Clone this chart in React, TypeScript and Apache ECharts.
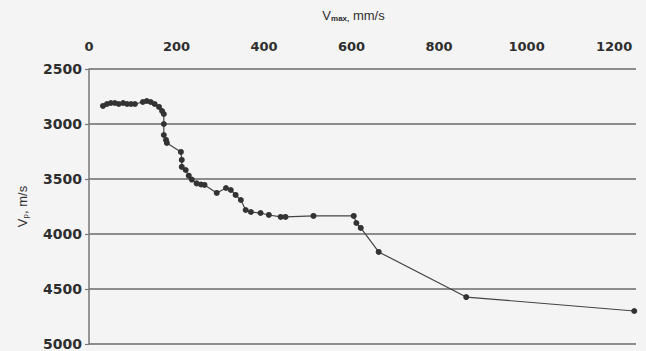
import React, { useEffect, useRef } from "react";
import * as echarts from "echarts";

const vmax: number[] = [32, 41, 50, 59, 68, 78, 87, 96, 105, 123, 132, 141, 150, 160, 167, 171, 171, 171, 176, 178, 210, 212, 212, 221, 228, 235, 246, 256, 264, 292, 313, 324, 335, 347, 358, 370, 392, 411, 438, 449, 513, 605, 611, 621, 662, 862, 1246];
const vp: number[] = [2836, 2818, 2809, 2809, 2818, 2809, 2818, 2818, 2818, 2800, 2791, 2800, 2818, 2845, 2882, 2909, 3000, 3100, 3145, 3172, 3254, 3327, 3390, 3418, 3470, 3505, 3540, 3550, 3554, 3627, 3582, 3600, 3645, 3691, 3782, 3800, 3809, 3827, 3845, 3845, 3836, 3836, 3900, 3945, 4163, 4573, 4700];
const xTicks = { min: 0, max: 1250, interval: 200 };
const yTicks = { min: 2500, max: 5000, interval: 500 };

export default function App() {
  const ref = useRef<HTMLDivElement>(null);
  useEffect(() => {
    if (!ref.current) return;
    const chart = echarts.init(ref.current, null, { renderer: "svg" });
    const font = "DejaVu Sans";
    const nameFont = "Liberation Sans";
    chart.setOption({
      animation: false,
      backgroundColor: "#f4f4f4",
      grid: { left: 89, right: 10, top: 69, bottom: 7 },
      xAxis: {
        type: "value",
        position: "top",
        min: xTicks.min,
        max: xTicks.max,
        interval: xTicks.interval,
        axisLine: { show: false },
        axisTick: { show: false },
        splitLine: { show: false },
        axisLabel: {
          showMaxLabel: false,
          margin: 16,
          color: "#2e2e2e",
          fontFamily: font,
          fontWeight: "bold",
          fontSize: 13,
          formatter: (v: number) => String(v),
        },
        name: "{a|V}{b|max,}{a| mm/s}",
        nameLocation: "middle",
        nameGap: 47,
        nameTextStyle: {
          padding: [0, 18, 0, 0],
          rich: {
            a: { fontFamily: nameFont, fontSize: 13, color: "#2e2e2e", verticalAlign: "bottom", lineHeight: 15 },
            b: { fontFamily: nameFont, fontSize: 8, fontWeight: "bold", color: "#2e2e2e", verticalAlign: "bottom", lineHeight: 10 },
          },
        },
      },
      yAxis: {
        type: "value",
        inverse: true,
        min: yTicks.min,
        max: yTicks.max,
        interval: yTicks.interval,
        axisLine: { show: true, lineStyle: { color: "#777", width: 1.5 } },
        axisTick: { show: true, length: 4, lineStyle: { color: "#777", width: 1.2 } },
        splitLine: { show: true, lineStyle: { color: "#6a6a6a", width: 1.5 } },
        axisLabel: {
          margin: 7,
          color: "#2e2e2e",
          fontFamily: font,
          fontWeight: "bold",
          fontSize: 14,
          formatter: (v: number) => String(v),
        },
        name: "{a|V}{b|p}{a|, m/s}",
        nameLocation: "middle",
        nameGap: 60,
        nameRotate: 90,
        nameTextStyle: {
          rich: {
            a: { fontFamily: nameFont, fontSize: 13, color: "#2e2e2e", verticalAlign: "bottom", lineHeight: 15 },
            b: { fontFamily: nameFont, fontSize: 8, color: "#2e2e2e", verticalAlign: "bottom", lineHeight: 10 },
          },
        },
      },
      series: [
        {
          type: "line",
          data: vmax.map((x, i) => [x, vp[i]]),
          symbol: "circle",
          symbolSize: 6,
          itemStyle: { color: "#333" },
          lineStyle: { color: "#444", width: 1.2 },
        },
      ],
    });
    return () => chart.dispose();
  }, []);
  return <div ref={ref} style={{ position: "fixed", left: 0, top: 0, width: 646, height: 351 }} />;
}
